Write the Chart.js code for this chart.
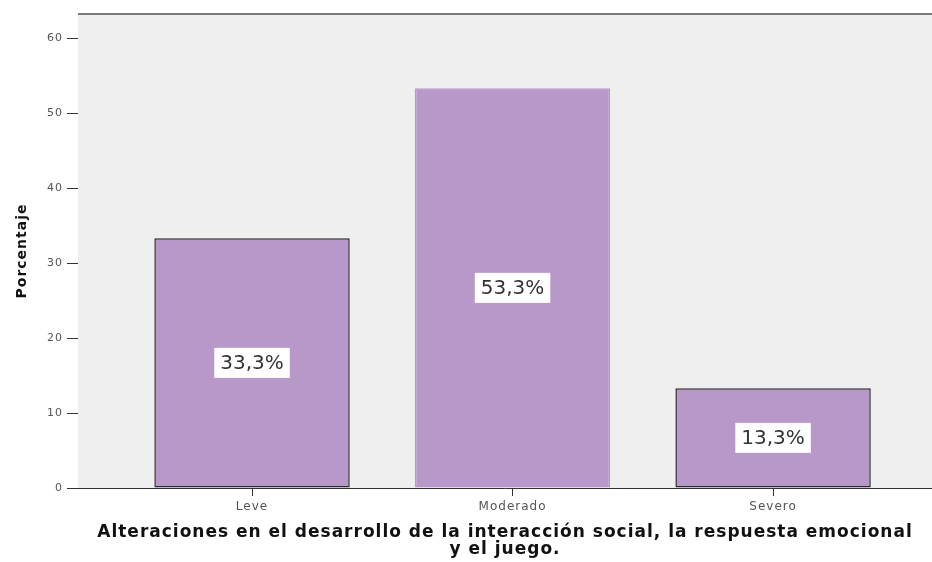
<!DOCTYPE html>
<html>
<head>
<meta charset="utf-8">
<script src="https://cdn.jsdelivr.net/npm/chart.js@4.4.0/dist/chart.umd.min.js"></script>
<style>
html,body{margin:0;padding:0;background:#fff;}
#wrap{width:932px;height:562px;position:relative;}
</style>
</head>
<body>
<div id="wrap"><canvas id="c" width="932" height="562"></canvas></div>
<script>
const categories = ["Leve", "Moderado", "Severo"];
const percentages = [33.3, 53.3, 13.3];
const valueLabels = ["33,3%", "53,3%", "13,3%"];
const yTicks = [0, 10, 20, 30, 40, 50, 60];
const xTitle = ["Alteraciones en el desarrollo de la interacción social, la respuesta emocional", "y el juego."];
const yTitle = "Porcentaje";

const bgPlugin = {
  id: 'bg',
  beforeDraw(chart) {
    const {ctx, chartArea: a} = chart;
    ctx.letterSpacing = '1px';
    ctx.save();
    ctx.fillStyle = '#efefef';
    ctx.fillRect(a.left, a.top, a.right - a.left, a.bottom - a.top);
    ctx.strokeStyle = '#7a7a7a';
    ctx.lineWidth = 2;
    ctx.beginPath();
    ctx.moveTo(a.left, a.top);
    ctx.lineTo(a.right, a.top);
    ctx.stroke();
    ctx.restore();
  }
};

const labelPlugin = {
  id: 'vlabels',
  afterDatasetsDraw(chart) {
    const {ctx} = chart;
    const meta = chart.getDatasetMeta(0);
    ctx.save();
    ctx.letterSpacing = '0px';
    ctx.font = '20px "DejaVu Sans", sans-serif';
    ctx.textAlign = 'center';
    ctx.textBaseline = 'middle';
    meta.data.forEach((bar, i) => {
      const cx = bar.x;
      const cy = (bar.y + bar.base) / 2;
      const txt = valueLabels[i];
      const w = ctx.measureText(txt).width + 12;
      const h = 30;
      ctx.fillStyle = '#ffffff';
      ctx.fillRect(cx - w / 2, cy - h / 2, w, h);
      ctx.fillStyle = '#333333';
      ctx.fillText(txt, cx, cy + 1);
    });
    ctx.restore();
  }
};

new Chart(document.getElementById('c'), {
  type: 'bar',
  data: {
    datasets: [{
      data: percentages.map((v, i) => ({x: i, y: v})),
      backgroundColor: '#b897c9',
      borderColor: ['#2a2a2a', '#b897c9', '#2a2a2a'],
      borderWidth: 1.5,
      borderSkipped: false,
      categoryPercentage: 1,
      barPercentage: 0.75
    }]
  },
  options: {
    responsive: false,
    animation: false,
    layout: {padding: {top: 14, right: 0, left: 0, bottom: 0}},
    plugins: {legend: {display: false}, tooltip: {enabled: false}},
    scales: {
      x: {
        type: 'linear',
        offset: false,
        min: -0.668,
        max: 2.61,
        afterBuildTicks(s) { s.ticks = categories.map((c, i) => ({value: i})); },
        afterFit(s) { s.height = 74; },
        ticks: {
          callback: (v) => categories[v],
          color: '#555',
          font: {size: 12, family: '"DejaVu Sans", sans-serif'},
          padding: 4,
          maxRotation: 0,
          autoSkip: false
        },
        grid: {offset: false, drawOnChartArea: false, color: '#333', tickLength: 8, lineWidth: 1},
        border: {display: true, color: '#333', width: 1},
        title: {
          display: true,
          text: xTitle,
          color: '#111',
          font: {size: 17, weight: 'bold', family: '"DejaVu Sans", sans-serif', lineHeight: 1.0},
          padding: {top: 0, bottom: 4}
        }
      },
      y: {
        min: 0,
        max: 63.2,
        afterBuildTicks(s) { s.ticks = yTicks.map(v => ({value: v})); },
        afterFit(s) { s.width = 78; },
        ticks: {
          color: '#555',
          font: {size: 11, family: '"DejaVu Sans", sans-serif'},
          padding: 4
        },
        grid: {drawOnChartArea: false, color: '#333', tickLength: 11, lineWidth: 1},
        border: {display: false},
        title: {
          display: true,
          text: yTitle,
          color: '#111',
          font: {size: 14, weight: 'bold', family: '"DejaVu Sans", sans-serif'},
          padding: {top: 14, bottom: 0}
        }
      }
    }
  },
  plugins: [bgPlugin, labelPlugin]
});
</script>
</body>
</html>
